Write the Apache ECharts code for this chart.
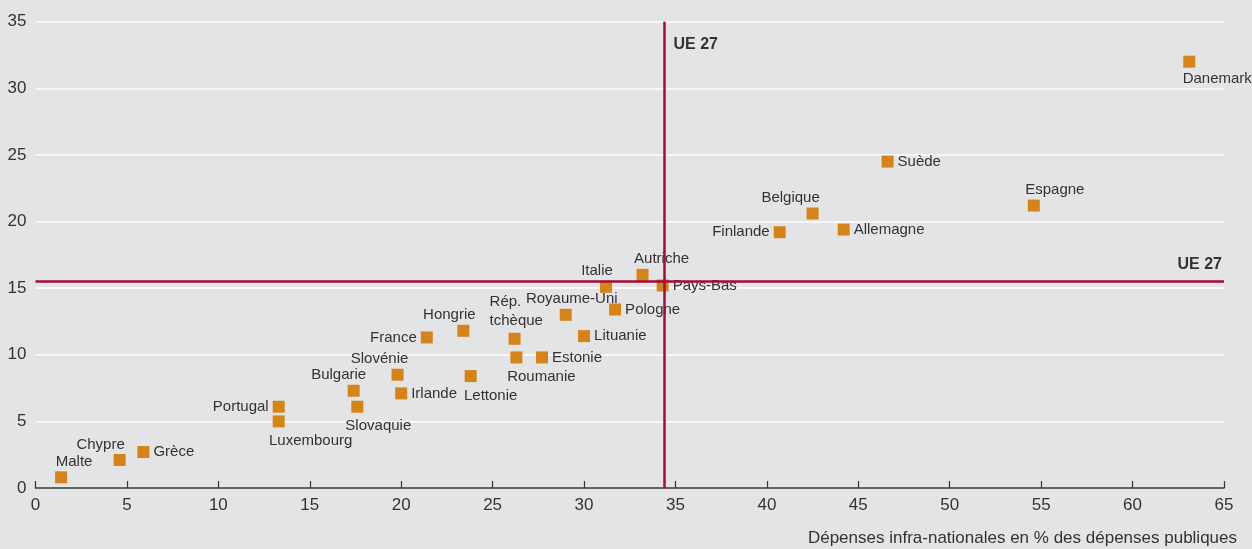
<!DOCTYPE html>
<html>
<head>
<meta charset="utf-8">
<script src="https://cdn.jsdelivr.net/npm/echarts@6/dist/echarts.min.js"></script>
<style>
  html, body { margin: 0; padding: 0; background: #e3e4e6; }
  #chart { width: 1252px; height: 549px; }
</style>
</head>
<body>
<div id="chart"></div>
<script>
// pays et valeurs
const pays = ['Malte', 'Chypre', 'Grèce', 'Portugal', 'Luxembourg', 'Bulgarie', 'Slovaquie',
  'Slovénie', 'Irlande', 'France', 'Hongrie', 'Lettonie', 'Rép. tchèque', 'Roumanie', 'Estonie',
  'Royaume-Uni', 'Lituanie', 'Pologne', 'Italie', 'Autriche', 'Pays-Bas', 'Finlande', 'Belgique',
  'Allemagne', 'Suède', 'Espagne', 'Danemark']
const depensesInfra = [1.4, 4.6, 5.9, 13.3, 13.3, 17.4, 17.6,
  19.8, 20.0, 21.4, 23.4, 23.8, 26.2, 26.3, 27.7,
  29.0, 30.0, 31.7, 31.2, 33.2, 34.3, 40.7, 42.5,
  44.2, 46.6, 54.6, 63.1]
const valeursY = [0.8, 2.1, 2.7, 6.1, 5.0, 7.3, 6.1,
  8.5, 7.1, 11.3, 11.8, 8.4, 11.2, 9.8, 9.8,
  13.0, 11.4, 13.4, 15.1, 16.0, 15.2, 19.2, 20.6,
  19.4, 24.5, 21.2, 32.0]
const ue27X = 34.4
const ue27Y = 15.55

// placement des étiquettes : [position, décalage x, décalage y]
const etiquettes = {
  'Malte': ['top', 13, 0], 'Chypre': ['top', -19, 0], 'Grèce': ['right', 0, 0],
  'Portugal': ['left', 0, 0], 'Luxembourg': ['bottom', 32, 0], 'Bulgarie': ['top', -15, 0],
  'Slovaquie': ['bottom', 21, 0], 'Slovénie': ['top', -18, 0], 'Irlande': ['right', 0, 0],
  'France': ['left', 0, 0], 'Hongrie': ['top', -14, 0], 'Lettonie': ['bottom', 20, 0],
  'Rép. tchèque': ['top', -25, -2], 'Roumanie': ['bottom', 25, 0], 'Estonie': ['right', 0, 0],
  'Royaume-Uni': ['top', 6, 0], 'Lituanie': ['right', 0, 0], 'Pologne': ['right', 0, 0],
  'Italie': ['top', -9, 0], 'Autriche': ['top', 19, 0], 'Pays-Bas': ['right', 0, 0],
  'Finlande': ['left', 0, 0], 'Belgique': ['top', -22, 0], 'Allemagne': ['right', 0, 0],
  'Suède': ['right', 0, 0], 'Espagne': ['top', 21, 0], 'Danemark': ['bottom', 28, -2]
}

const police = '"Liberation Sans", Arial, sans-serif'
const texte = '#333333'
const rouge = '#a50b3c'

const points = pays.map((p, i) => {
  const [pos, dx, dy] = etiquettes[p]
  const label = { position: pos, offset: [dx, dy], distance: pos === 'top' ? 0 : 4 }
  if (p === 'Rép. tchèque') label.align = 'left'
  return { name: p, value: [depensesInfra[i], valeursY[i]], label }
})

const chart = echarts.init(document.getElementById('chart'))

chart.setOption({
  backgroundColor: '#e3e4e6',
  animation: false,
  grid: { left: 35.5, right: 28, top: 21.7, bottom: 61 },
  xAxis: {
    type: 'value',
    min: 0,
    max: 65,
    interval: 5,
    name: 'Dépenses infra-nationales en % des dépenses publiques',
    nameLocation: 'end',
    nameGap: 13,
    nameTextStyle: {
      fontFamily: police, fontSize: 17, color: texte,
      align: 'right', verticalAlign: 'top', padding: [42, 0, 0, 0]
    },
    axisLine: { lineStyle: { color: '#333333', width: 1.5 } },
    axisTick: { show: true, inside: true, length: 7, lineStyle: { color: '#333333', width: 1.2 } },
    axisLabel: { fontFamily: police, fontSize: 17, color: texte, margin: 9 },
    splitLine: { show: false }
  },
  yAxis: {
    type: 'value',
    min: 0,
    max: 35,
    interval: 5,
    axisLine: { show: false },
    axisTick: { show: false },
    axisLabel: { fontFamily: police, fontSize: 17, color: texte, margin: 9 },
    splitLine: { lineStyle: { color: '#ffffff', width: 1.5 } }
  },
  series: [{
    type: 'scatter',
    symbol: 'rect',
    symbolSize: 12,
    itemStyle: { color: '#d6831a', opacity: 1 },
    label: {
      show: true,
      fontFamily: police,
      fontSize: 15,
      lineHeight: 19,
      color: texte,
      formatter: (d) => d.name === 'Rép. tchèque' ? 'Rép.\ntchèque' : d.name
    },
    data: points,
    markLine: {
      silent: true,
      symbol: 'none',
      lineStyle: { color: rouge, width: 2.5, type: 'solid' },
      label: {
        show: true,
        fontFamily: police, fontSize: 16, fontWeight: 'bold', color: texte
      },
      data: [
        { yAxis: ue27Y, label: { position: 'insideEndTop', formatter: 'UE 27', distance: [2, 8] } },
        { xAxis: ue27X, label: { show: false } }
      ]
    },
    markPoint: {
      silent: true,
      symbol: 'rect',
      symbolSize: 0,
      label: {
        show: true, position: 'right', distance: 9, formatter: 'UE 27',
        fontFamily: police, fontSize: 16, fontWeight: 'bold', color: texte
      },
      data: [{ coord: [ue27X, 33.3] }]
    }
  }]
})
</script>
</body>
</html>
